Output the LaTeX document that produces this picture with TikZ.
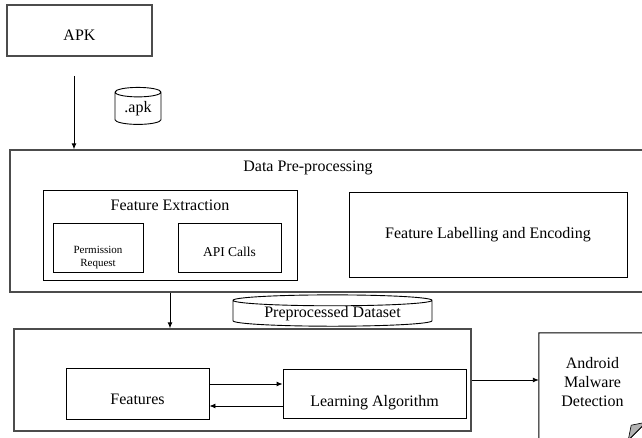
\documentclass[tikz,border=0pt]{standalone}
\usepackage{fontspec}
\setmainfont{Liberation Serif}
\usetikzlibrary{shapes.geometric,arrows.meta,positioning,calc}

\begin{document}
\begin{tikzpicture}[
    x=1pt, y=-1pt,
    every node/.style={font=\fontsize{16}{19}\selectfont, inner sep=0pt},
    box/.style={rectangle, draw, line width=0.9pt, align=center},
    outer/.style={rectangle, draw=black!70, line width=1.3pt},
    store/.style={cylinder, shape border rotate=90, draw, line width=0.9pt, align=center},
    title/.style={align=center},
    low/.style={text height=#1, text depth=4pt},
    flow/.style={-{Latex[length=6pt,width=5pt]}, line width=0.9pt},
]
    \useasboundingbox (0,0) rectangle (642,438);
    \clip (0,0) rectangle (642,438);

    % input file
    \node[outer, minimum width=145pt, minimum height=51pt, low=24pt] (apk) at (79.5,30.5) {APK};
    \node[store, minimum width=46pt, minimum height=37pt, aspect=0.35] (apkfile) at (138,108.5) {.apk};

    % pre-processing stage
    \node[outer, minimum width=640pt, minimum height=142pt] (prep) at (330,221) {};
    \node[title] (preptitle) at (308,168) {Data Pre-processing};
    \node[box, minimum width=254pt, minimum height=90pt] (extract) at (170,235) {};
    \node[title] (extracttitle) at (170,205) {Feature Extraction};
    \node[box, minimum width=90pt, minimum height=49pt, font=\fontsize{11}{13}\selectfont, low=41pt] (perm) at (98,247.5) {Permission\\Request};
    \node[box, minimum width=103pt, minimum height=49pt, font=\fontsize{13.5}{16}\selectfont, low=23pt] (api) at (229.5,247.5) {API Calls};
    \node[box, minimum width=278pt, minimum height=85pt] (encode) at (488,234.5) {Feature Labelling and Encoding};

    \node[store, minimum width=199pt, minimum height=25pt, aspect=0.08] (dataset) at (332.5,313.5) {Preprocessed Dataset};

    % learning stage
    \node[outer, minimum width=457pt, minimum height=102pt] (learn) at (242.5,380) {};
    \node[box, minimum width=143pt, minimum height=51pt, low=26pt] (feat) at (137.5,393.5) {Features};
    \node[box, minimum width=183pt, minimum height=49pt, low=29pt] (algo) at (374.5,393.5) {Learning Algorithm};

    % output document with folded corner
    \node[minimum width=107pt, minimum height=107pt, align=center, text depth=10pt] (detect) at (592.5,386.5) {Android\\Malware\\Detection};
    \draw[line width=0.9pt] (detect.north west) -- (detect.north east) -- ($(detect.south east)+(0,-18)$)
        -- ($(detect.south east)+(-18,0)$) -- (detect.south west) -- cycle;
    \filldraw[fill=black!30, line width=0.6pt] ($(detect.south east)+(0,-18)$) -- ($(detect.south east)+(-15,-15)$)
        -- ($(detect.south east)+(-18,0)$) -- cycle;

    % connectors
    \coordinate (apkout) at (74,76);
    \draw[flow] (apkout) -- (apkout |- prep.north);
    \draw[flow] (extract |- prep.south) -- (extract |- learn.north);
    \draw[flow] ([yshift=9.5pt]feat.east) -- ([yshift=9.5pt]feat.east -| algo.west);
    \draw[flow] ([yshift=-12.5pt]algo.west) -- ([yshift=-12.5pt]algo.west -| feat.east);
    \draw[flow] (learn.east) -- (learn.east -| detect.west);
\end{tikzpicture}
\end{document}
